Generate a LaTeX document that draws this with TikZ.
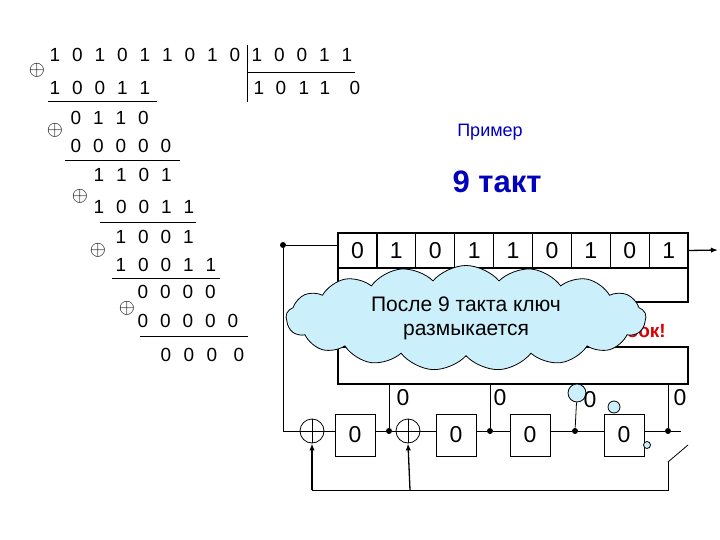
\documentclass[tikz,border=0pt]{standalone}
\usepackage{fontspec}
\setmainfont{Liberation Sans}
\usetikzlibrary{shapes.symbols,arrows.meta}
\begin{document}
\begin{tikzpicture}[x=1pt,y=-1pt,line width=0.8pt,
  dg/.style={font=\fontsize{19}{19}\selectfont,inner sep=0pt},
  op/.style={font=\fontsize{22}{22}\selectfont,inner sep=0pt},
  cell/.style={draw,line width=1.3pt,minimum width=38.9pt,minimum height=35pt,inner sep=0pt,font=\fontsize{23}{23}\selectfont},
  box/.style={draw,minimum width=40pt,minimum height=42pt,inner sep=0pt,font=\fontsize{23}{23}\selectfont},
  xr/.style={draw,circle,minimum size=24pt,inner sep=0pt},
  dot/.style={circle,fill,inner sep=0pt,minimum size=6pt},
  bub/.style={circle,draw,fill=cyan!20,inner sep=0pt},
  lab/.style={font=\fontsize{23}{23}\selectfont,inner sep=0pt}]
\useasboundingbox (0,0) rectangle (720,540);
% long division
\newcommand{\drow}[3]{\foreach \d [count=\i] in {#3} {\node[dg] at ({#1+22.5*(\i-1)},#2) {\d};}}
\drow{55}{55}{1,0,1,0,1,1,0,1,0}
\drow{257}{55}{1,0,0,1,1}
\draw (247,45) -- (247,102); \draw (247,72) -- (355,72);
\foreach \d/\x in {1/259,0/281,1/304,1/325,0/355} \node[dg] at (\x,88) {\d};
\drow{55}{88}{1,0,0,1,1}
\node[op] (o1) at (37,70) {$\oplus$};
\draw (48,101) -- (157,101);
\drow{76}{118}{0,1,1,0}
\node[op] (o2) at (55,130) {$\oplus$};
\drow{76}{146}{0,0,0,0,0}
\draw (65,160) -- (180,160);
\drow{99}{175}{1,1,0,1}
\node[op] (o3) at (80,196) {$\oplus$};
\drow{99}{207}{1,0,0,1,1}
\draw (100,222) -- (196,222);
\drow{121}{237}{1,0,0,1}
\node[op] (o4) at (98,250) {$\oplus$};
\drow{121}{265}{1,0,0,1,1}
\draw (112,278) -- (220,278);
\drow{143}{292}{0,0,0,0}
\node[op] (o5) at (127,308) {$\oplus$};
\drow{143}{321}{0,0,0,0,0}
\draw (140,336) -- (248,336);
\foreach \d/\x in {0/166,0/189,0/212,0/239} \node[dg] at (\x,355) {\d};
% titles
\node[text=blue!75!black,font=\fontsize{18}{18}\selectfont] (ex) at (490,132) {Пример};
\node[text=blue!75!black,font=\bfseries\fontsize{31}{31}\selectfont] (t9) at (497,182) {9 такт};
% register
\foreach \d [count=\i] in {0,1,0,1,1,0,1,0,1}
  \node[cell] (c\i) at ({338+38.9*(\i-0.5)},250.5) {\d};
\draw[line width=1.3pt] (338,268) rectangle (688,302);
\node[text=red!85!black,font=\bfseries\fontsize{19}{19}\selectfont] (err) at (625,331) {Ошибок!};
\draw[line width=1.3pt] (338,347) rectangle (688,384);
\coordinate (out) at (718,250);
\draw[line width=1.3pt,-{Latex[length=7pt]}] (c9.east) -- (out);
% chain
\node[dot] (d0) at (283,245) {};
\draw (d0) -- (338,245);
\node[xr] (x1) at (312,431) {}; \draw (x1.north) -- (x1.south) (x1.west) -- (x1.east);
\node[box] (b1) at (355,435) {0};
\node[xr] (x2) at (408,431) {}; \draw (x2.north) -- (x2.south) (x2.west) -- (x2.east);
\node[box] (b2) at (456,435) {0};
\node[box] (b3) at (530,435) {0};
\node[box] (b4) at (624,435) {0};
\node[dot] (d1) at (389,431) {};
\node[dot] (d2) at (490,431) {};
\node[dot] (d3) at (575,431) {};
\node[dot] (d4) at (668,431) {};
\coordinate (end) at (681,431);
\draw (d0) |- (x1.west);
\draw (x1.east) -- (335,431) (375,431) -- (d1) -- (x2.west);
\draw (x2.east) -- (436,431) (476,431) -- (d2) -- (510,431) (550,431) -- (d3) -- (604,431) (644,431) -- (d4) -- (end);
\draw (d1) -- (389,384) (d2) -- (490,384) (d4) -- (668,384);
\node[bub,minimum size=18pt] (bb1) at (577,393) {};
\draw (d3) -- (bb1);
\node[bub,minimum size=12pt] (bb2) at (614,407) {};
\node[bub,minimum size=7pt] (bb3) at (647,445) {};
\node[lab] at (403,398) {0};
\node[lab] at (500,398) {0};
\node[lab] at (590,400) {0};
\node[lab] at (680,398) {0};
% feedback
\coordinate (sw) at (668,462);
\draw (sw) -- (688,445);
\draw (sw) -- (668,490) -- (312,490);
\draw[line width=1.3pt,-{Latex[length=7pt]}] (312,490) -- (x1.south);
\draw[line width=1.3pt,-{Latex[length=7pt]}] (410,490) -- (x2.south);
% cloud
\node[cloud,draw,fill=cyan!20,cloud puffs=17,cloud puff arc=100,cloud ignores aspect,minimum width=360pt,minimum height=105pt,align=center,font=\fontsize{21}{24}\selectfont] (cl) at (466,318) {После 9 такта ключ\\размыкается};
\end{tikzpicture}
\end{document}
